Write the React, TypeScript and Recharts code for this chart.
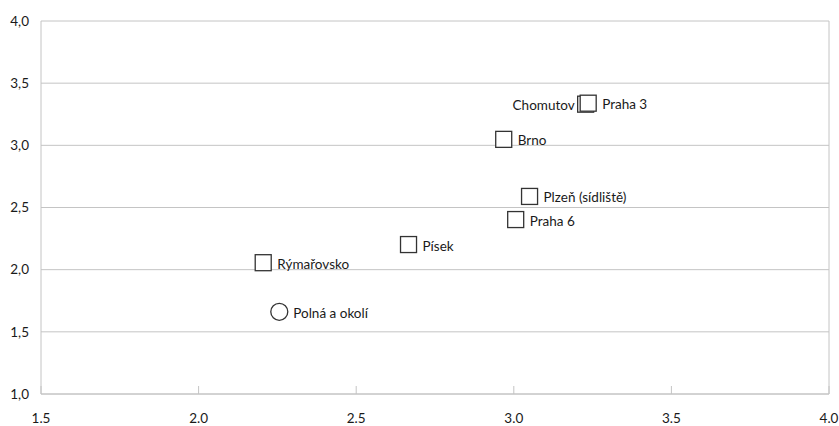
import React from "react";
import {
  ScatterChart,
  Scatter,
  XAxis,
  YAxis,
  CartesianGrid,
  ReferenceLine,
} from "recharts";

const squareNames = ["Chomutov", "Praha 3", "Brno", "Plzeň (sídliště)", "Praha 6", "Písek", "Rýmařovsko"];
const squareX = [3.228, 3.236, 2.968, 3.05, 3.006, 2.666, 2.205];
const squareY = [3.331, 3.339, 3.048, 2.589, 2.403, 2.202, 2.056];

const circleNames = ["Polná a okolí"];
const circleX = [2.256];
const circleY = [1.661];

const xTicks = [1.5, 2.0, 2.5, 3.0, 3.5, 4.0];
const yTicks = [1.0, 1.5, 2.0, 2.5, 3.0, 3.5, 4.0];

const leftLabeled = ["Chomutov"];

const squareData = squareNames.map((name, i) => ({ name, x: squareX[i], y: squareY[i] }));
const circleData = circleNames.map((name, i) => ({ name, x: circleX[i], y: circleY[i] }));

const FONT = "Lato, 'DejaVu Sans Condensed', sans-serif";
const TEXT = "#1a1a1a";

const Label = ({ cx, cy, name }: any) => {
  const left = leftLabeled.includes(name);
  return (
    <text
      x={left ? cx - 11 : cx + 14}
      y={cy + 1}
      textAnchor={left ? "end" : "start"}
      dominantBaseline="central"
      fontFamily={FONT}
      fontSize={13.5}
      fill={TEXT}
    >
      {name}
    </text>
  );
};

const SquareShape = (props: any) => {
  const { cx, cy, payload } = props;
  const s = 16;
  return (
    <g>
      <rect x={cx - s / 2} y={cy - s / 2} width={s} height={s} fill="#fff" stroke="#333" strokeWidth={1.3} />
      <Label cx={cx} cy={cy} name={payload.name} />
    </g>
  );
};

const CircleShape = (props: any) => {
  const { cx, cy, payload } = props;
  return (
    <g>
      <circle cx={cx} cy={cy} r={8.5} fill="#fff" stroke="#333" strokeWidth={1.3} />
      <Label cx={cx} cy={cy} name={payload.name} />
    </g>
  );
};

export default function App() {
  return (
    <div style={{ position: "absolute", left: 0, top: 0, background: "#fff" }}>
      <style>{`body{margin:0;background:#fff}`}</style>
      <ScatterChart width={839} height={426} margin={{ top: 21, right: 10, bottom: 0, left: 0 }}>
        <CartesianGrid vertical={false} stroke="#c4c4c4" />
        <XAxis
          type="number"
          dataKey="x"
          domain={[1.5, 4]}
          ticks={xTicks}
          tickFormatter={(v: number) => v.toFixed(1)}
          axisLine={{ stroke: "#c4c4c4" }}
          tickLine={{ stroke: "#c4c4c4" }}
          tickSize={-8}
          tickMargin={27}
          height={32}
          tick={{ fontFamily: FONT, fontSize: 13.5, fill: TEXT }}
        />
        <YAxis
          type="number"
          dataKey="y"
          domain={[1, 4]}
          ticks={yTicks}
          tickFormatter={(v: number) => v.toFixed(1).replace(".", ",")}
          axisLine={{ stroke: "#c4c4c4" }}
          tickLine={false}
          tickSize={0}
          tickMargin={12}
          width={41}
          tick={{ fontFamily: FONT, fontSize: 13.5, fill: TEXT }}
        />
        <ReferenceLine x={4} stroke="#c4c4c4" />
        <Scatter data={squareData} shape={<SquareShape />} isAnimationActive={false} />
        <Scatter data={circleData} shape={<CircleShape />} isAnimationActive={false} />
      </ScatterChart>
    </div>
  );
}
